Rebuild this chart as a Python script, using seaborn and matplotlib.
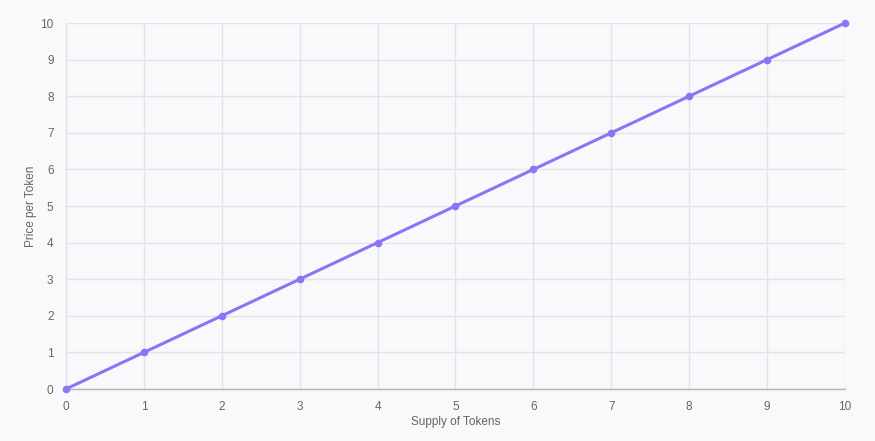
import pandas as pd
import matplotlib.pyplot as plt
import seaborn as sns

# datos de la curva
supply = [0, 1, 2, 3, 4, 5, 6, 7, 8, 9, 10]
price = [0, 1, 2, 3, 4, 5, 6, 7, 8, 9, 10]
x_ticks = list(range(0, 11))
y_ticks = list(range(0, 11))

df = pd.DataFrame({'supply': supply, 'price': price})

sns.set_style('white')
plt.rcParams['font.family'] = ['Liberation Sans', 'DejaVu Sans']

bg = '#f8f9fb'
grid_c = '#e3e4e7'

fig = plt.figure(figsize=(8.75, 4.41), dpi=100, facecolor=bg)
ax = fig.add_axes([66 / 875, 1 - 389 / 441, (845 - 66) / 875, (389 - 23) / 441])
ax.set_facecolor(bg)

sns.lineplot(data=df, x='supply', y='price', ax=ax, color='#9073f5', linewidth=2.2,
             marker='o', markersize=5.5, markeredgewidth=0, zorder=3, clip_on=False)

ax.set_xlim(0, 10)
ax.set_ylim(0, 10)
ax.set_xticks(x_ticks)
ax.set_yticks(y_ticks)
ax.grid(True, color=grid_c, linewidth=1)
ax.tick_params(axis='both', length=6, color=grid_c, labelsize=8.5, labelcolor='#666666', pad=3)

for s in ['top', 'right']:
    ax.spines[s].set_visible(False)
ax.spines['left'].set_color(grid_c)
ax.spines['bottom'].set_color('#b5b5b8')
ax.spines['left'].set_linewidth(1)
ax.spines['bottom'].set_linewidth(1)

ax.set_xlabel('Supply of Tokens', fontsize=8.5, color='#666666', labelpad=2)
ax.set_ylabel('Price per Token', fontsize=8.5, color='#666666', labelpad=2)

fig.savefig('out.png', dpi=100, facecolor=bg)
